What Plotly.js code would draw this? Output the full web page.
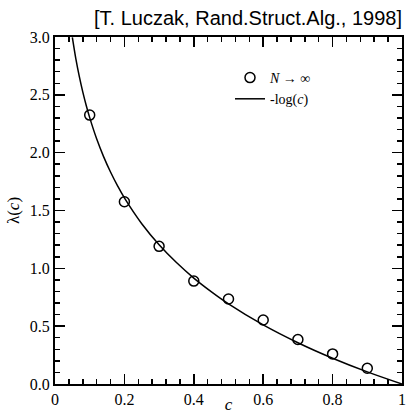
<!DOCTYPE html>
<html>
<head>
<meta charset="utf-8">
<script src="https://cdn.plot.ly/plotly-3.0.1.min.js"></script>
<style>html,body{margin:0;padding:0;background:#fff;}#chart{width:408px;height:414px;}</style>
</head>
<body>
<div id="chart"></div>
<script>
// Simulation points (N -> infinity)
var pointC = [0.1, 0.2, 0.3, 0.4, 0.5, 0.6, 0.7, 0.8, 0.9];
var pointLambda = [2.325, 1.576, 1.19, 0.89, 0.735, 0.553, 0.385, 0.26, 0.136];
// -log(c) curve values read at these c
var curveC = [0.05, 0.06, 0.07, 0.08, 0.09, 0.1, 0.12, 0.14, 0.16, 0.18, 0.2, 0.25, 0.3, 0.35, 0.4, 0.45, 0.5, 0.6, 0.7, 0.8, 0.9, 1.0];
var curveLambda = [2.996, 2.813, 2.659, 2.526, 2.408, 2.303, 2.120, 1.966, 1.833, 1.715, 1.609, 1.386, 1.204, 1.050, 0.916, 0.799, 0.693, 0.511, 0.357, 0.223, 0.105, 0.0];
var xRange = [0, 1];
var yRange = [0, 3];

var serif = "'Liberation Serif', 'Times New Roman', serif";

function makeTraces() {
  return [
    {
      x: pointC, y: pointLambda, type: 'scatter', mode: 'markers',
      name: '<i>N</i> \u2192 \u221e',
      marker: {symbol: 'circle-open', size: 10, color: '#000', line: {width: 1.5, color: '#000'}}
    },
    {
      x: curveC, y: curveLambda, type: 'scatter', mode: 'lines',
      name: '-log(<i>c</i>)',
      line: {color: '#000', width: 1.5, shape: 'spline', smoothing: 1}
    }
  ];
}

function makeLayout(v) {
  var lay = {
    width: 408, height: 414,
    margin: {l: 55, r: 6, t: 37, b: 30},
    showlegend: true,
    title: {
      text: '[T. Luczak, Rand.Struct.Alg., 1998]',
      font: {family: "'Liberation Sans', Arial, sans-serif", size: 20, color: '#000'},
      x: 1, xref: 'paper', xanchor: 'right',
      y: 0.957, yref: 'container', yanchor: 'middle'
    },
    xaxis: {
      range: xRange, showgrid: false, zeroline: false,
      showline: true, linecolor: '#000', linewidth: 2, mirror: 'allticks',
      ticks: 'inside', ticklen: 10, tickwidth: 1.5, tickcolor: '#000',
      tickmode: 'linear', tick0: 0, dtick: 0.2,
      tickfont: {family: serif, size: 16, color: '#000'},
      minor: {tickmode: 'linear', tick0: 0, dtick: 0.04, ticks: 'inside', ticklen: 5, tickwidth: 1.5, tickcolor: '#000', showgrid: false},
      title: {text: '<i>c</i>', font: {family: serif, size: 17, color: '#000'}, standoff: 0}
    },
    yaxis: {
      range: yRange, showgrid: false, zeroline: false,
      showline: true, linecolor: '#000', linewidth: 2, mirror: 'allticks',
      ticks: 'inside', ticklen: 10, tickwidth: 1.5, tickcolor: '#000',
      tickmode: 'linear', tick0: 0, dtick: 0.5, tickformat: '.1f',
      tickfont: {family: serif, size: 16, color: '#000'},
      minor: {tickmode: 'linear', tick0: 0, dtick: 0.1, ticks: 'inside', ticklen: 5, tickwidth: 1.5, tickcolor: '#000', showgrid: false},
      title: {text: '\u03bb(<i>c</i>)', font: {family: serif, size: 17, color: '#000'}, standoff: 6}
    },
    legend: {
      x: (230 - 55) / 347, y: 1 - (62 - 37) / 347,
      xanchor: 'left', yanchor: 'top',
      font: {family: serif, size: 14, color: '#000'}
    }
  };
  // progressively simpler fallbacks, used only if ticks fail to show
  if (v >= 1) { delete lay.yaxis.minor; }
  if (v >= 2) { delete lay.yaxis.tickformat; delete lay.yaxis.tickmode; delete lay.yaxis.tick0; delete lay.yaxis.dtick; }
  if (v >= 3) { delete lay.yaxis.title.standoff; lay.yaxis.linewidth = 1; lay.xaxis.linewidth = 1; }
  if (v >= 4) { lay.legend = {font: {family: serif, size: 14, color: '#000'}}; }
  if (v >= 5) { lay.title = {text: lay.title.text}; }
  return lay;
}
var MAXV = 5;

var gdEl = document.getElementById('chart');
var cfg = {displayModeBar: false, staticPlot: true};

function darkIn(img, x0, x1, y0, y1) {
  var cv = document.createElement('canvas');
  cv.width = img.width; cv.height = img.height;
  var ctx = cv.getContext('2d');
  ctx.fillStyle = '#fff'; ctx.fillRect(0, 0, cv.width, cv.height);
  ctx.drawImage(img, 0, 0);
  var w = Math.max(1, Math.round(x1 - x0)), h = Math.max(1, Math.round(y1 - y0));
  var d = ctx.getImageData(Math.round(x0), Math.round(y0), w, h).data;
  for (var i = 0; i < d.length; i += 4) {
    if (d[i] < 140 && d[i + 1] < 140 && d[i + 2] < 140) return true;
  }
  return false;
}

function ticksVisible(gd) {
  var xa = gd._fullLayout.xaxis, ya = gd._fullLayout.yaxis;
  var tx = xa._offset + xa.l2p(0.2);
  var bottom = ya._offset + ya._length;
  var ty = ya._offset + ya.l2p(1.5);
  var left = xa._offset;
  return Plotly.toImage(gd, {format: 'png', width: 408, height: 414, scale: 1}).then(function (url) {
    return new Promise(function (resolve) {
      var img = new Image();
      img.onload = function () {
        try {
          var okX = darkIn(img, tx - 2, tx + 3, bottom - 9, bottom - 6);
          var okY = darkIn(img, left + 6, left + 9, ty - 2, ty + 3);
          resolve(okX && okY);
        } catch (e) { resolve(null); }
      };
      img.onerror = function () { resolve(null); };
      img.src = url;
    });
  }, function () { return null; });
}

function attempt(v) {
  return Plotly.react(gdEl, makeTraces(), makeLayout(v), cfg).then(function (gd) {
    return ticksVisible(gd).then(function (ok) {
      if (ok === null) {
        if (v !== 0) return Plotly.react(gdEl, makeTraces(), makeLayout(0), cfg);
        return gd;
      }
      if (ok) return gd;
      if (v < MAXV) return attempt(v + 1);
      return Plotly.react(gdEl, makeTraces(), makeLayout(0), cfg);
    });
  });
}
attempt(0);
</script>
</body>
</html>
